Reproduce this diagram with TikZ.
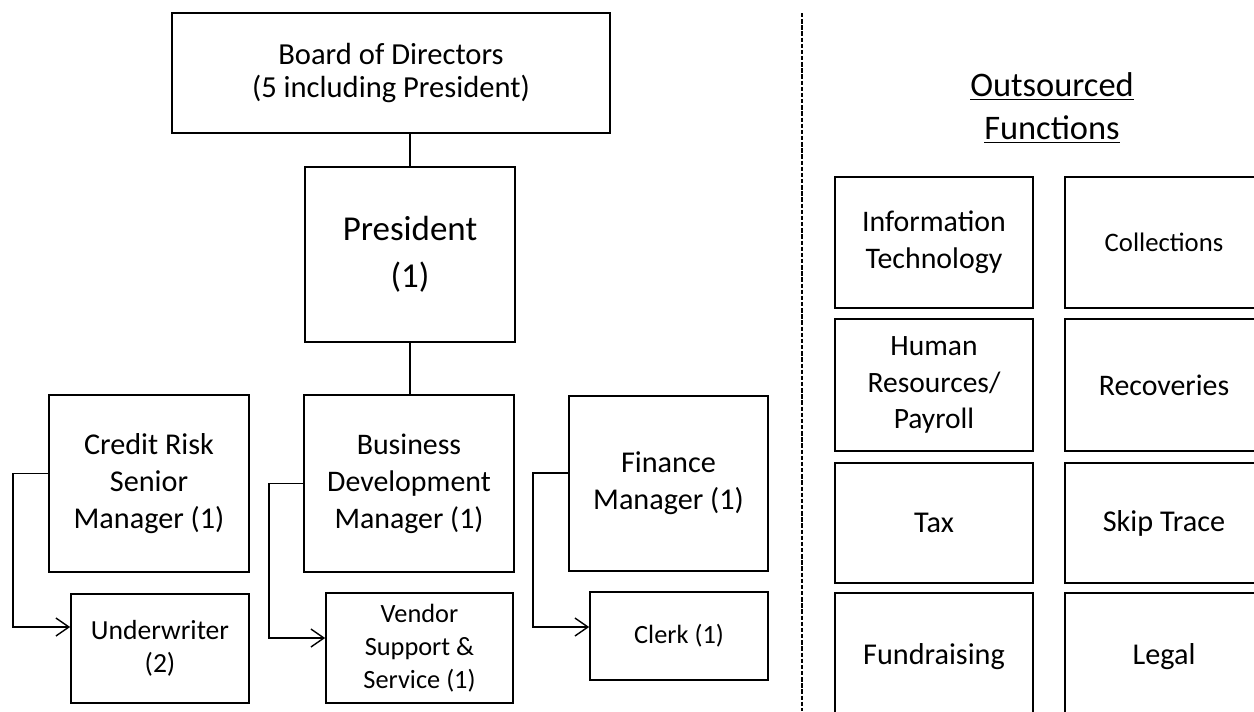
\documentclass[tikz,border=0pt]{standalone}
\usepackage{fontspec}
\setmainfont{Carlito}
\usetikzlibrary{arrows.meta, positioning}
\tikzset{
  post/.style = {draw, line width=1pt, align=center, inner sep=2pt},
  func/.style = {post, minimum width=3.96cm},
  reports/.style = {line width=0.8pt, -{Straight Barb[length=2.6mm, width=3.6mm]}},
  tie/.style = {line width=0.8pt},
  divider/.style = {line width=0.6pt, dash pattern=on 2.5pt off 1pt}
}

\begin{document}
\begin{tikzpicture}[x=0.02cm, y=-0.02cm]
  \useasboundingbox (0,0) rectangle (1254,711);

  %% Organisation chart

  % Board and President
  \node[post, minimum width=8.76cm, minimum height=2.4cm, font=\fontsize{17.4}{18.5}\selectfont] (board) at (391,73) {Board of Directors\\(5 including President)};
  \node[post, minimum width=4.2cm, minimum height=3.5cm, font=\fontsize{19.9}{26.7}\selectfont] (pres) at (410,254.5) {President\\(1)};
  \draw[tie] (pres.north) -- (pres.north |- board.south);
  \draw[tie] (pres.south) -- ++(0,53);

  % Managers
  \node[post, minimum width=4cm, minimum height=3.54cm, font=\fontsize{17.2}{21}\selectfont] (risk) at (149,483.5) {Credit Risk\\Senior\\Manager (1)};
  \node[post, minimum width=4.2cm, minimum height=3.54cm, font=\fontsize{17}{21}\selectfont] (bdm) at (409,483.5) {Business\\Development\\Manager (1)};
  \node[post, minimum width=3.98cm, minimum height=3.5cm, font=\fontsize{17.2}{21}\selectfont] (fin) at (668.5,483.5) {Finance\\Manager (1)};

  % Staff
  \node[post, minimum width=3.56cm, minimum height=2.18cm, font=\fontsize{15.7}{18.8}\selectfont] (under) at (160,648.5) {Underwriter\\(2)};
  \node[post, minimum width=3.74cm, minimum height=2.2cm, font=\fontsize{15}{18.8}\selectfont] (vendor) at (419.5,648) {Vendor\\Support \&\\Service (1)};
  \node[post, minimum width=3.56cm, minimum height=1.76cm, font=\fontsize{15}{18}\selectfont] (clerk) at (679,636) {Clerk (1)};

  \draw[reports] ([yshift=0.2cm]risk.west) -- ++(-35,0) |- ([yshift=0.43cm]under.west);
  \draw[reports] (bdm.west) -- ++(-34,0) |- ([yshift=0.2cm]vendor.west);
  \draw[reports] ([yshift=0.21cm]fin.west) -- ++(-35,0) |- ([yshift=0.18cm]clerk.west);

  %% Outsourced functions
  \coordinate (divtop) at (802,13);
  \coordinate (divbot) at (802,711);
  \draw[divider] (divtop) -- (divbot);

  \node[align=center, font=\fontsize{19.6}{24.5}\selectfont] (title) at (1052,108) {\underline{Outsourced}\\\underline{Functions}};

  \node[func, minimum height=2.62cm, font=\fontsize{17}{21}\selectfont] (it) at (934,242.5) {Information\\Technology};
  \node[func, minimum height=2.62cm, font=\fontsize{15.2}{18}\selectfont] (coll) at (1164,242.5) {Collections};
  \node[func, minimum height=2.64cm, font=\fontsize{16.8}{21}\selectfont] (hr) at (934,385) {Human\\Resources/\\Payroll};
  \node[func, minimum height=2.64cm, font=\fontsize{17}{21}\selectfont] (recov) at (1164,385) {Recoveries};
  \node[func, minimum height=2.4cm, font=\fontsize{17.2}{21}\selectfont] (tax) at (934,523) {Tax};
  \node[func, minimum height=2.4cm, font=\fontsize{17.2}{21}\selectfont] (skip) at (1164,523) {Skip Trace};
  \node[func, minimum height=2.56cm, font=\fontsize{17.2}{21}\selectfont] (fund) at (934,657) {Fundraising};
  \node[func, minimum height=2.56cm, font=\fontsize{17.2}{21}\selectfont] (legal) at (1164,657) {Legal};

\end{tikzpicture}
\end{document}
